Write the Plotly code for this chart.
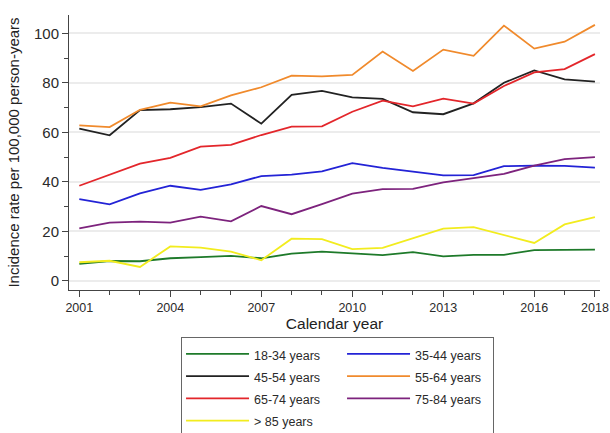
import plotly.graph_objects as go

years = list(range(2001, 2019))

age_18_34 = [6.8, 8.0, 7.9, 9.1, 9.6, 10.1, 9.1, 11.0, 11.8, 11.2, 10.4, 11.6, 9.9, 10.5, 10.5, 12.4, 12.4, 12.6]
age_35_44 = [33.0, 30.9, 35.3, 38.4, 36.7, 39.0, 42.3, 42.9, 44.2, 47.5, 45.6, 44.0, 42.6, 42.7, 46.3, 46.5, 46.4, 45.7]
age_45_54 = [61.5, 58.8, 69.0, 69.3, 70.2, 71.6, 63.5, 75.1, 76.7, 74.1, 73.5, 68.1, 67.3, 71.7, 80.0, 85.0, 81.4, 80.5]
age_55_64 = [62.8, 62.1, 69.1, 72.0, 70.5, 74.9, 78.2, 82.9, 82.6, 83.2, 92.6, 84.8, 93.4, 90.9, 103.1, 93.8, 96.6, 103.4]
age_65_74 = [38.4, 43.0, 47.3, 49.7, 54.2, 54.9, 58.9, 62.3, 62.4, 68.3, 72.8, 70.5, 73.6, 71.6, 78.7, 84.2, 85.5, 91.6]
age_75_84 = [21.2, 23.5, 23.9, 23.5, 25.9, 24.0, 30.2, 26.9, 31.0, 35.2, 37.0, 37.1, 39.8, 41.5, 43.2, 46.5, 49.2, 50.0]
age_85_up = [7.5, 8.1, 5.6, 13.9, 13.4, 11.8, 8.3, 17.0, 16.8, 12.8, 13.3, 17.2, 21.1, 21.7, 18.5, 15.3, 22.8, 25.7]

series_names = ["18-34 years", "35-44 years", "45-54 years", "55-64 years",
                "65-74 years", "75-84 years", "> 85 years"]
series_values = [age_18_34, age_35_44, age_45_54, age_55_64, age_65_74, age_75_84, age_85_up]
series_colors = ["#1e7a2a", "#2323d6", "#222222", "#f08a2c", "#e3262b", "#7d237d", "#f2ec1e"]
legend_columns = ["c1", "c2", "c1", "c2", "c1", "c2", "c1"]

x_tickvals = [2001, 2004, 2007, 2010, 2013, 2016, 2018]
x_ticktext = ["2001", "2004", "2007", "2010", "2013", "2016", "2018"]
y_tickvals = [0, 20, 40, 60, 80, 100]
y_ticktext = ["0", "20", "40", "60", "80", "100"]

FONT = "Liberation Sans, Arial, sans-serif"

fig = go.Figure()
for name, vals, col, grp in zip(series_names, series_values, series_colors, legend_columns):
    fig.add_trace(go.Scatter(
        x=years, y=vals, mode="lines", name=f'<span style="font-size:12.5px">{name}</span>',
        line=dict(color=col, width=1.8),
        legendgroup=grp,
        legendwidth=83 if grp == "c1" else 73,
    ))

fig.update_layout(
    width=610, height=433,
    margin=dict(l=69, r=10, t=15, b=143, autoexpand=False),
    paper_bgcolor="white", plot_bgcolor="white",
    font=dict(family=FONT, color="#2a2a2a"),
    showlegend=True,
    legend=dict(
        orientation="h", traceorder="grouped", tracegroupgap=0,
        x=0.211, xanchor="left", y=-0.170, yanchor="top",
        bordercolor="#666666", borderwidth=1, bgcolor="white",
        itemwidth=63, font=dict(size=14.8, family=FONT, color="#2a2a2a"),
        groupclick="toggleitem",
    ),
    xaxis=dict(
        range=[2000.66, 2018.167],
        tickmode="array", tickvals=x_tickvals, ticktext=x_ticktext,
        ticks="outside", ticklen=6, tickwidth=1, tickcolor="#444444",
        tickfont=dict(size=12.5, family=FONT, color="#2a2a2a"),
        showline=True, linecolor="#444444", linewidth=1,
        showgrid=False, zeroline=False,
        minor=dict(tick0=2001, dtick=1, ticks="outside", ticklen=4, tickcolor="#444444", showgrid=False),
        title=dict(text="Calendar year", font=dict(size=15.5, family=FONT, color="#222222"), standoff=1),
    ),
    yaxis=dict(
        range=[-3.72, 107.39],
        tickmode="array", tickvals=y_tickvals, ticktext=y_ticktext,
        ticks="outside", ticklen=6, tickwidth=1, tickcolor="#444444",
        tickfont=dict(size=15, family=FONT, color="#2a2a2a"),
        showline=True, linecolor="#444444", linewidth=1,
        showgrid=True, gridcolor="#ececec", gridwidth=1.5, zeroline=False,
        minor=dict(tick0=0, dtick=10, ticks="outside", ticklen=4, tickcolor="#444444", showgrid=False),
        title=dict(text="Incidence rate per 100,000 person-years",
                   font=dict(size=15, family=FONT, color="#222222"), standoff=10),
    ),
)

fig.write_html("out.html")
